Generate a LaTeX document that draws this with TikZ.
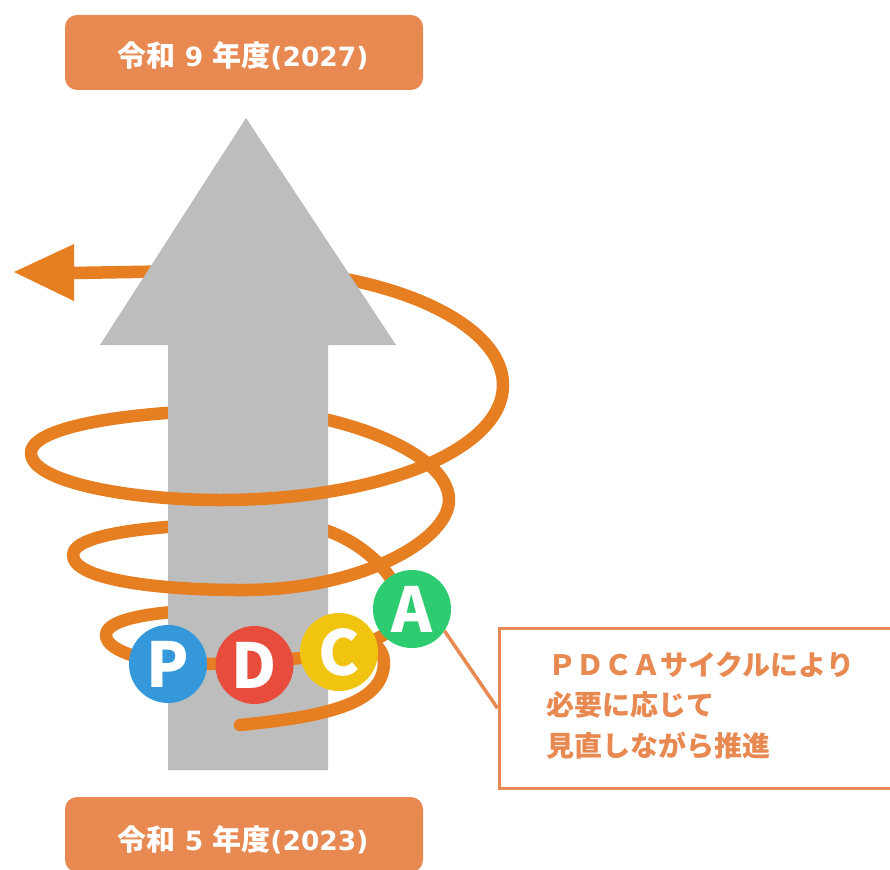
\documentclass[tikz,border=0pt]{standalone}
\usepackage{fontspec}
\newfontfamily\jp{Noto Sans CJK JP}
\newfontfamily\dv{DejaVu Sans}
\definecolor{spiralor}{RGB}{230,126,34}
\definecolor{boxor}{RGB}{232,137,82}
\definecolor{arrowgray}{RGB}{189,189,189}
\definecolor{pblue}{RGB}{52,152,219}
\definecolor{dred}{RGB}{231,76,60}
\definecolor{cyellow}{RGB}{241,196,15}
\definecolor{agreen}{RGB}{46,204,113}
\newcommand\spiralpts{(240,725) .. controls (330,716) and (384,703) .. (384,662)
 .. controls (384,632) and (315,612) .. (240,610)
 .. controls (160,609) and (106,618) .. (106,635)
 .. controls (106,652) and (150,664) .. (200,664)
 .. controls (290,664) and (402,650) .. (402,610)
 .. controls (402,575) and (350,525) .. (290,524)
 .. controls (170,522) and (73,532) .. (73,555)
 .. controls (73,580) and (160,590) .. (240,590)
 .. controls (360,591) and (449,540) .. (449,500)
 .. controls (449,450) and (330,410) .. (250,410)
 .. controls (140,410) and (31,425) .. (31,453)
 .. controls (31,482) and (130,500) .. (220,500)
 .. controls (380,500) and (503,450) .. (503,385)
 .. controls (503,320) and (380,270) .. (250,270)
 -- (72,273)}
\newcommand\yeartxt[2]{{\jp 令和}{\dv\fontsize{26.5}{30}\selectfont\ #1\ }{\jp 年度}{\dv\fontsize{26.5}{30}\selectfont(#2)}}
\tikzset{
  yearbox/.style={fill=boxor, rounded corners=12pt, minimum width=358pt, minimum height=75pt, inner sep=0pt},
  yeartext/.style={text=white, font=\bfseries\fontsize{29}{34}\selectfont, anchor=base, inner sep=0pt},
  spiralline/.style={draw=spiralor, line width=12.5pt, line cap=round, line join=round},
  letterball/.style={circle, minimum size=78pt, inner sep=0pt, text=white, font=\jp\bfseries\fontsize{62}{62}\selectfont},
  notetext/.style={text=boxor, font=\jp\bfseries\fontsize{28}{34}\selectfont, anchor=base west, inner sep=0pt},
}
\begin{document}
\begin{tikzpicture}[x=1pt,y=-1pt]
\clip (0,0) rectangle (890,869);
\fill[white] (0,0) rectangle (890,869);
% year boxes
\node[yearbox] (topbox) at (244,52.5) {};
\node[yeartext] (toptext) at (243,67) {\yeartxt{9}{2027}};
\node[yearbox] (botbox) at (244,834.5) {};
\node[yeartext] (bottext) at (243,850) {\yeartxt{5}{2023}};
% spiral (full, behind arrow)
\draw[spiralline] \spiralpts;
\fill[spiralor] (14,272) -- (74,244) -- (74,301) -- cycle;
% gray arrow
\fill[arrowgray] (168,770) -- (168,345) -- (100,345) -- (246,118) -- (396,345) -- (328,345) -- (328,770) -- cycle;
% spiral parts in front of the arrow
\begin{scope}
\clip (168,475) rectangle (328,512) (168,562) rectangle (328,601) (168,640) rectangle (328,745);
\draw[spiralline] \spiralpts;
\end{scope}
% note box and connector
\node[draw=boxor, line width=3.5pt, minimum width=398pt, minimum height=160pt, inner sep=0pt, anchor=north west] (note) at (497.5,626.5) {};
\node[letterball, fill=agreen] (A) at (412,609) {A};
\draw[boxor, line width=3.5pt] (A.-34) -- (note.west);
\node[letterball, fill=pblue] (P) at (168,664) {P};
\node[letterball, fill=dred] (D) at (254.5,665) {D};
\node[letterball, fill=cyellow] (C) at (339,652) {C};
\node[notetext] (l1) at (548,675) {ＰＤＣＡサイクルにより};
\node[notetext] (l2) at (546,715) {必要に応じて};
\node[notetext] (l3) at (546,756) {見直しながら推進};
\end{tikzpicture}
\end{document}
